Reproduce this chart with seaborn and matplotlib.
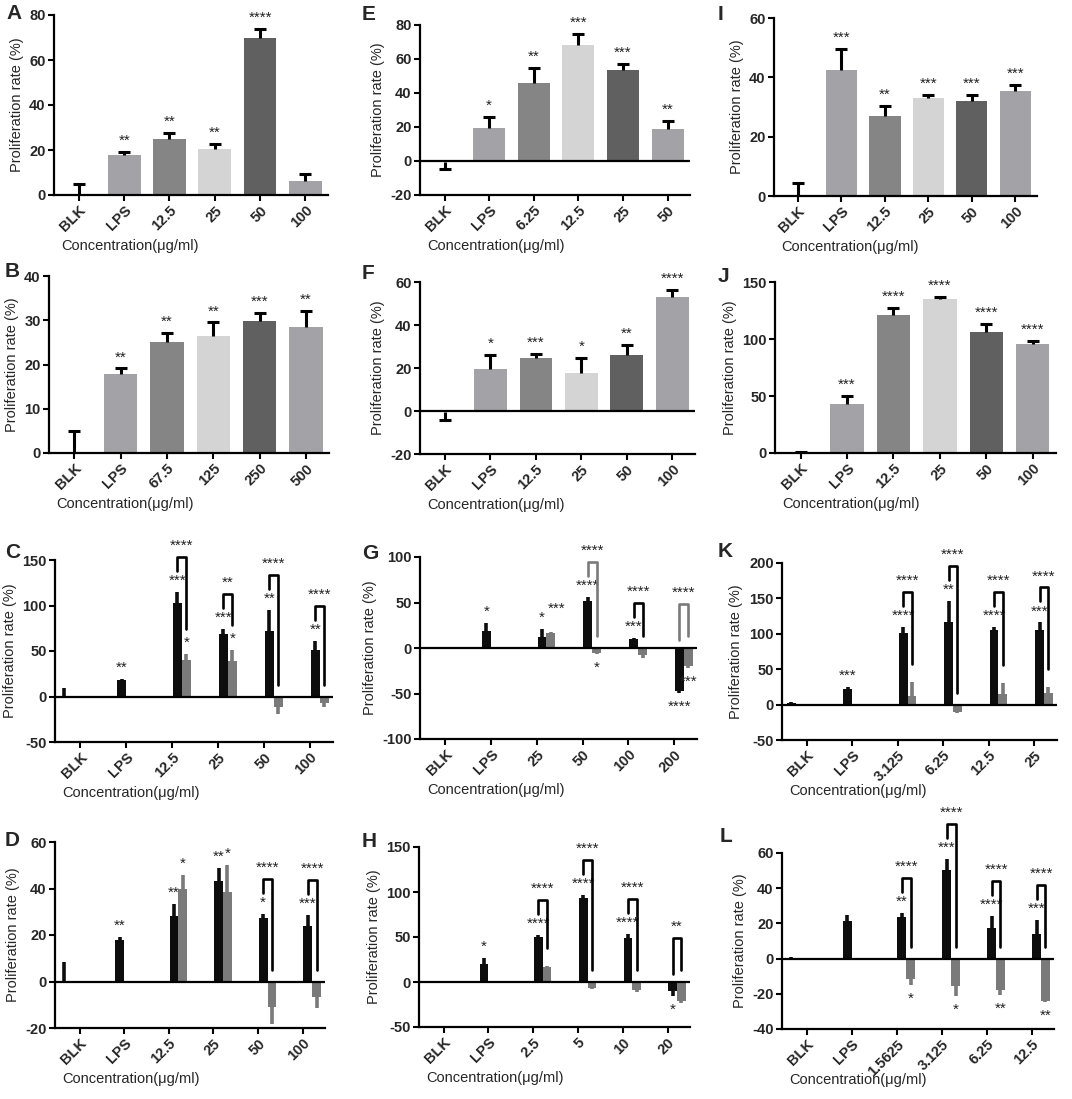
import numpy as np
import pandas as pd
import matplotlib
matplotlib.use("Agg")
import matplotlib.pyplot as plt
import seaborn as sns

# ---------------- data ----------------
# single-series panels: A, B, E, F, I, J
a_cats = ["BLK", "LPS", "12.5", "25", "50", "100"]
a_vals = [0, 17.8, 24.7, 20.3, 69.9, 6.2]
a_err = [4.9, 1.2, 2.7, 2.4, 3.9, 3.1]
a_stars = ["", "**", "**", "**", "****", ""]

b_cats = ["BLK", "LPS", "67.5", "125", "250", "500"]
b_vals = [0.2, 17.8, 25.0, 26.5, 29.8, 28.5]
b_err = [4.8, 1.3, 2.1, 3.0, 1.8, 3.5]
b_stars = ["", "**", "**", "**", "***", "**"]

e_cats = ["BLK", "LPS", "6.25", "12.5", "25", "50"]
e_vals = [-0.5, 19.5, 46.0, 68.0, 53.5, 19.0]
e_err = [4.0, 6.5, 9.0, 6.5, 3.5, 4.5]
e_stars = ["", "*", "**", "***", "***", "**"]

f_cats = ["BLK", "LPS", "12.5", "25", "50", "100"]
f_vals = [-0.3, 19.5, 24.5, 17.5, 26.0, 53.0]
f_err = [3.7, 6.5, 2.0, 7.0, 4.5, 3.5]
f_stars = ["", "*", "***", "*", "**", "****"]

i_cats = ["BLK", "LPS", "12.5", "25", "50", "100"]
i_vals = [0.3, 42.5, 27.0, 33.0, 32.0, 35.5]
i_err = [4.2, 7.0, 3.5, 1.0, 2.0, 2.0]
i_stars = ["", "***", "**", "***", "***", "***"]

j_cats = ["BLK", "LPS", "12.5", "25", "50", "100"]
j_vals = [0.5, 43.0, 121.0, 135.0, 106.0, 96.0]
j_err = [0.5, 7.0, 6.0, 2.0, 7.0, 2.0]
j_stars = ["", "***", "****", "****", "****", "****"]

# two-series panels: C, D, G, H, K, L (black series for every column,
# grey series only for the four concentrations)
c_cats = ["BLK", "LPS", "12.5", "25", "50", "100"]
c_black = [0, 18.0, 103.0, 69.0, 72.0, 51.5]
c_black_err = [9.5, 1.5, 12.0, 5.5, 23.5, 9.5]
c_gray = [40.5, 39.0, -11.5, -7.5]
c_gray_err = [6.0, 12.0, 7.5, 4.5]
c_black_stars = ["", "**", "***", "***", "**", "**"]
c_gray_stars = ["*", "*", "", ""]
c_pair_stars = ["****", "**", "****", "****"]

d_cats = ["BLK", "LPS", "12.5", "25", "50", "100"]
d_black = [0, 18.0, 28.3, 43.3, 27.4, 23.9]
d_black_err = [8.6, 1.2, 5.0, 5.6, 1.5, 4.7]
d_gray = [39.7, 38.6, -11.1, -6.7]
d_gray_err = [6.0, 11.4, 7.0, 4.7]
d_black_stars = ["", "**", "**", "**", "*", "***"]
d_gray_stars = ["*", "*", "", ""]
d_pair_stars = ["", "", "****", "****"]

g_cats = ["BLK", "LPS", "25", "50", "100", "200"]
g_black = [0.5, 19.0, 11.7, 51.5, 9.5, -47.8]
g_black_err = [0.8, 8.0, 8.7, 4.5, 1.0, 1.8]
g_gray = [16.8, -5.8, -7.7, -19.7]
g_gray_err = [0.8, 0.8, 3.6, 2.6]
g_black_stars = ["", "*", "*", "****", "***", "****"]
g_gray_stars = ["***", "*", "", "***"]
g_pair_stars = ["", "****", "****", "****"]

h_cats = ["BLK", "LPS", "2.5", "5", "10", "20"]
h_black = [0.5, 19.7, 50.4, 93.5, 48.5, -10.5]
h_black_err = [1.0, 6.7, 1.8, 3.0, 4.5, 4.8]
h_gray = [17.2, -6.8, -8.7, -21.6]
h_gray_err = [0.7, 0.5, 2.9, 1.5]
h_black_stars = ["", "*", "****", "****", "****", "*"]
h_gray_stars = ["", "", "", ""]
h_pair_stars = ["****", "****", "****", "**"]

k_cats = ["BLK", "LPS", "3.125", "6.25", "12.5", "25"]
k_black = [2.0, 22.0, 101.0, 116.5, 104.7, 104.7]
k_black_err = [2.0, 3.5, 8.0, 30.0, 4.7, 11.3]
k_gray = [12.0, -10.0, 15.0, 17.0]
k_gray_err = [20.5, 2.0, 16.0, 8.5]
k_black_stars = ["", "***", "****", "**", "****", "***"]
k_gray_stars = ["", "", "", ""]
k_pair_stars = ["****", "****", "****", "****"]

l_cats = ["BLK", "LPS", "1.5625", "3.125", "6.25", "12.5"]
l_black = [0.5, 21.2, 23.6, 50.5, 17.4, 14.2]
l_black_err = [0.6, 3.8, 2.4, 6.1, 6.6, 7.8]
l_gray = [-11.6, -15.4, -17.7, -24.3]
l_gray_err = [3.2, 6.0, 2.8, 0.5]
l_black_stars = ["", "", "**", "***", "****", "***"]
l_gray_stars = ["*", "*", "**", "**"]
l_pair_stars = ["****", "****", "****", "****"]

# ---------------- style ----------------
single_colors = ["#000000", "#a3a3a7", "#858585", "#d4d4d4", "#606060", "#a3a3a7"]
BLACK = "#0d0d0d"
GRAY = "#7a7a7a"
FS = 10.5

sns.set_style("ticks")
plt.rcParams["font.family"] = ["Liberation Sans", "DejaVu Sans"]
plt.rcParams["axes.unicode_minus"] = False

FIG_W, FIG_H = 1072, 1099
fig = plt.figure(figsize=(FIG_W / 100, FIG_H / 100), dpi=100)


def px_axes(x0, x1, top, bottom):
    ax = fig.add_axes([x0 / FIG_W, 1 - bottom / FIG_H,
                       (x1 - x0) / FIG_W, (bottom - top) / FIG_H])
    ax.w_px, ax.h_px = x1 - x0, bottom - top
    return ax


def style_axes(ax, cats, ylim, ystep, zero_line):
    ax.set_xlim(-0.55, 5.5)
    ax.set_ylim(*ylim)
    yt = np.arange(ylim[0], ylim[1] + 1, ystep)
    ax.set_yticks(yt, labels=[str(v) for v in yt], fontweight="bold", fontsize=FS)
    ax.set_xticks(range(len(cats)), labels=cats, rotation=45, ha="right",
                  rotation_mode="anchor", fontweight="bold", fontsize=FS)
    ax.tick_params(length=4, width=1.5, pad=2, color="black")
    sns.despine(ax=ax)
    for s in ("left", "bottom"):
        ax.spines[s].set_linewidth(1.6)
        ax.spines[s].set_color("black")
    if zero_line:
        ax.axhline(0, color="black", lw=1.6, zorder=4)
    ax.set_ylabel("Proliferation rate (%)", fontsize=FS, labelpad=4)
    ax.set_xlabel("Concentration(μg/ml)", fontsize=FS, ha="left", va="center")
    ax.xaxis.set_label_coords(7 / ax.w_px, -51 / ax.h_px)


def add_star(ax, x, y, text, above=True, lift=0, dx=0):
    if not text:
        return
    ax.annotate(text, xy=(x, y), xytext=(dx, (3 + lift) if above else -5),
                textcoords="offset points", ha="center",
                va="bottom" if above else "top", fontsize=11,
                color="#222222", annotation_clip=False)


def single_panel(ax, cats, vals, err, stars, ylim, ystep):
    df = pd.DataFrame({"cat": cats, "val": vals})
    sns.barplot(data=df, x="cat", y="val", hue="cat", order=cats, hue_order=cats,
                palette=single_colors, width=0.72, saturation=1, errorbar=None,
                legend=False, linewidth=0, ax=ax)
    vals = np.asarray(vals, float)
    err = np.asarray(err, float)
    x = np.arange(len(cats))
    ends = np.where(vals < 0, vals - err, vals + err)
    ax.vlines(x, vals, ends, color="black", lw=2.2, zorder=3)
    ax.plot(x, ends, ls="none", marker="_", ms=9, mew=2.2, color="black", zorder=3)
    for xi, e, v, s in zip(x, ends, vals, stars):
        add_star(ax, xi, e, s, above=v >= 0)
    style_axes(ax, cats, ylim, ystep, zero_line=ylim[0] < 0)


def grouped_panel(ax, cats, black, black_err, gray, gray_err,
                  black_stars, gray_stars, pair_stars, ylim, ystep,
                  bracket_colors=None):
    n = len(cats)
    idx = np.arange(n)
    bx = np.where(idx == 0, idx - 0.35, np.where(idx == 1, idx - 0.1, idx + 0.115))
    gx = idx[2:] + 0.31
    df = pd.DataFrame({
        "pos": np.r_[bx, gx],
        "val": np.r_[black, gray],
        "series": ["treated"] * n + ["co"] * len(gray),
    })
    sns.barplot(data=df, x="pos", y="val", hue="series", orient="x",
                palette={"treated": BLACK, "co": GRAY}, native_scale=True,
                dodge=False, width=1.0, saturation=1, errorbar=None,
                legend=False, linewidth=0, ax=ax)
    black = np.asarray(black, float)
    black_err = np.asarray(black_err, float)
    gray = np.asarray(gray, float)
    gray_err = np.asarray(gray_err, float)
    b_end = np.where(black < 0, black - black_err, black + black_err)
    g_end = np.where(gray < 0, gray - gray_err, gray + gray_err)
    ax.vlines(bx, black, b_end, color=BLACK, lw=2.6, zorder=3)
    ax.vlines(gx, gray, g_end, color=GRAY, lw=2.6, zorder=3)

    upp = (ylim[1] - ylim[0]) / ax.h_px
    for xi, e, v, s in zip(bx, b_end, black, black_stars):
        add_star(ax, xi, e, s, above=v >= 0)
    for j, (xi, e, v, s) in enumerate(zip(gx, g_end, gray, gray_stars)):
        k = j + 2
        lift, dx = 0, 0
        # stagger a grey star that would collide with its black neighbour
        if (s and black_stars[k] and v >= 0 and black[k] >= 0
                and abs(e - b_end[k]) / upp < 12
                and (len(s) + len(black_stars[k])) * 2.3 > 8.6):
            lift, dx = 9, 4
        add_star(ax, xi, e, s, above=v >= 0, lift=lift, dx=dx)

    if bracket_colors is None:
        bracket_colors = ["black"] * len(gray)
    for j, ps in enumerate(pair_stars):
        if not ps:
            continue
        k = j + 2
        left_low = b_end[k] + 21 * upp if black[k] >= 0 else 8 * upp
        if gray[j] >= 0:
            right_low = g_end[j] + (25 if gray_stars[j] else 18) * upp
        else:
            right_low = 12 * upp
        top = max(left_low, right_low, 30 * upp) + 14 * upp
        ax.plot([bx[k], bx[k], gx[j], gx[j]], [left_low, top, top, right_low],
                color=bracket_colors[j], lw=1.9, clip_on=False, zorder=5)
        add_star(ax, (bx[k] + gx[j]) / 2, top, ps)

    style_axes(ax, cats, ylim, ystep, zero_line=True)


# ---------------- panels ----------------
ax = px_axes(54, 328, 15, 195)
single_panel(ax, a_cats, a_vals, a_err, a_stars, (0, 80), 20)
ax = px_axes(49, 329, 276, 453)
single_panel(ax, b_cats, b_vals, b_err, b_stars, (0, 40), 10)
ax = px_axes(420, 690, 25, 195)
single_panel(ax, e_cats, e_vals, e_err, e_stars, (-20, 80), 20)
ax = px_axes(420, 695, 282, 454)
single_panel(ax, f_cats, f_vals, f_err, f_stars, (-20, 60), 20)
ax = px_axes(774, 1037, 18, 196)
single_panel(ax, i_cats, i_vals, i_err, i_stars, (0, 60), 20)
ax = px_axes(775, 1056, 282, 453)
single_panel(ax, j_cats, j_vals, j_err, j_stars, (0, 150), 50)

ax = px_axes(55, 333, 560, 742)
grouped_panel(ax, c_cats, c_black, c_black_err, c_gray, c_gray_err,
              c_black_stars, c_gray_stars, c_pair_stars, (-50, 150), 50)
ax = px_axes(55, 325, 842, 1028)
grouped_panel(ax, d_cats, d_black, d_black_err, d_gray, d_gray_err,
              d_black_stars, d_gray_stars, d_pair_stars, (-20, 60), 20)
ax = px_axes(420, 697, 557, 739)
grouped_panel(ax, g_cats, g_black, g_black_err, g_gray, g_gray_err,
              g_black_stars, g_gray_stars, g_pair_stars, (-100, 100), 50,
              bracket_colors=["black", GRAY, "black", GRAY])
ax = px_axes(419, 690, 847, 1027)
grouped_panel(ax, h_cats, h_black, h_black_err, h_gray, h_gray_err,
              h_black_stars, h_gray_stars, h_pair_stars, (-50, 150), 50)
ax = px_axes(782, 1057, 563, 740)
grouped_panel(ax, k_cats, k_black, k_black_err, k_gray, k_gray_err,
              k_black_stars, k_gray_stars, k_pair_stars, (-50, 200), 50)
ax = px_axes(782, 1054, 853, 1029)
grouped_panel(ax, l_cats, l_black, l_black_err, l_gray, l_gray_err,
              l_black_stars, l_gray_stars, l_pair_stars, (-40, 60), 20)

# panel letters
for letter, (lx, ly) in {"A": (6, 4), "B": (5, 262), "C": (5, 543), "D": (5, 831),
                         "E": (362, 5), "F": (362, 264), "G": (362, 544),
                         "H": (362, 832), "I": (718, 5), "J": (718, 267),
                         "K": (718, 542), "L": (720, 827)}.items():
    fig.text(lx / FIG_W, 1 - ly / FIG_H, letter, fontsize=15, fontweight="bold",
             ha="left", va="top")

fig.savefig("out.png", dpi=100)
